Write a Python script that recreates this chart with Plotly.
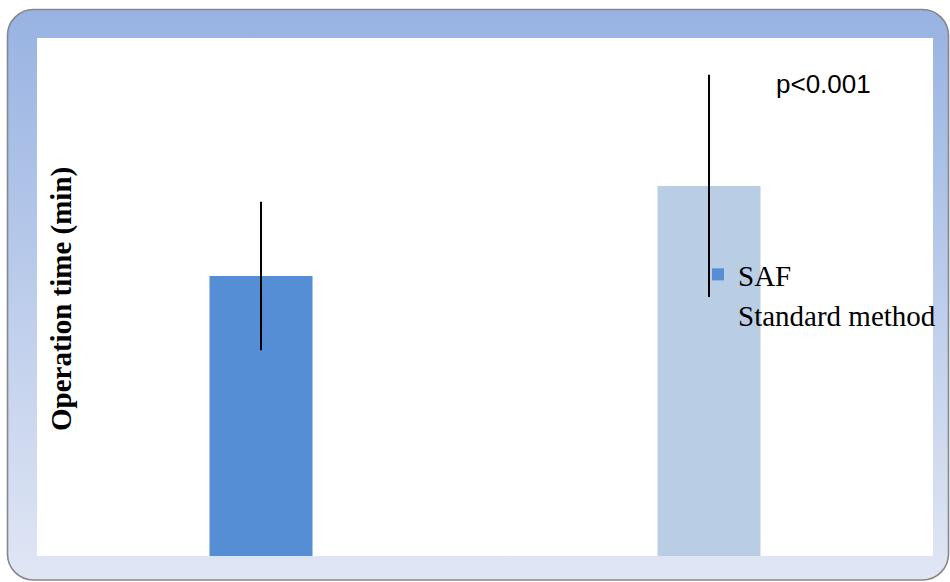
import base64
import plotly.graph_objects as go

# ---- data (units: minutes, estimated) ----
groups = ["SAF", "Standard method"]
means = [60.0, 79.3]
sds = [15.9, 23.8]
colors = ["#558ed5", "#b9cde5"]
p_label = "p<0.001"
y_title = "Operation time (min)"

W, H = 950, 582
L, R, T, B = 37, 17, 38, 26
pw, ph = W - L - R, H - T - B

def px_x(px):
    return (px - L) / pw

def px_y(py):
    return (H - B - py) / ph

# gradient rounded frame as an SVG image
fx0, fy0, fx1, fy1 = 7.5, 9.5, 948.5, 580
svg = f'''<svg xmlns="http://www.w3.org/2000/svg" width="{W}" height="{H}" viewBox="0 0 {W} {H}">
<defs><linearGradient id="g" x1="0" y1="0" x2="0" y2="1">
<stop offset="0" stop-color="#98b3e2"/><stop offset="1" stop-color="#e0e6f4"/>
</linearGradient></defs>
<rect x="{fx0}" y="{fy0}" width="{fx1-fx0}" height="{fy1-fy0}" rx="26" ry="26" fill="url(#g)" stroke="#878787" stroke-width="1.6"/>
</svg>'''
src = "data:image/svg+xml;base64," + base64.b64encode(svg.encode()).decode()

fig = go.Figure()
for i, (g, m, s, c) in enumerate(zip(groups, means, sds, colors)):
    fig.add_trace(go.Bar(
        x=[i], y=[m], name=g, width=0.23,
        marker=dict(color=c, line=dict(width=0)),
        error_y=dict(type="data", array=[s], visible=True, color="black",
                     thickness=2, width=0),
        legendgroup=g,
    ))

fig.update_layout(
    width=W, height=H,
    margin=dict(l=L, r=R, t=T, b=B, pad=0, autoexpand=False),
    paper_bgcolor="white",
    plot_bgcolor="white",
    barmode="overlay",
    showlegend=True,
    legend=dict(
        x=px_x(698), y=px_y(249), xanchor="left", yanchor="top",
        bgcolor="rgba(0,0,0,0)", borderwidth=0,
        font=dict(family="Liberation Serif", size=29, color="black"),
        itemwidth=30, tracegroupgap=12, traceorder="normal",
    ),
    xaxis=dict(range=[-0.5, 1.5], showticklabels=False, showgrid=False,
               zeroline=False, showline=False, ticks=""),
    yaxis=dict(range=[0, ph * means[0] / 280], showticklabels=False,
               showgrid=False, zeroline=False, showline=False, ticks=""),
    images=[dict(source=src, xref="paper", yref="paper",
                 x=px_x(0), y=px_y(0), sizex=W / pw, sizey=H / ph,
                 xanchor="left", yanchor="top", sizing="stretch",
                 layer="below")],
    shapes=[dict(type="rect", xref="paper", yref="paper", x0=0, x1=1, y0=0, y1=1,
                 fillcolor="white", line=dict(width=0), layer="below")],
    annotations=[
        dict(text=f"<b>{y_title}</b>", xref="paper", yref="paper",
             x=px_x(61), y=px_y(299), textangle=-90, showarrow=False,
             xanchor="center", yanchor="middle",
             font=dict(family="Liberation Serif", size=29, color="black")),
        dict(text=p_label, xref="paper", yref="paper",
             x=px_x(774), y=px_y(84), showarrow=False,
             xanchor="left", yanchor="middle",
             font=dict(family="Liberation Sans", size=26, color="black")),
    ],
)

fig.write_html("out.html")
